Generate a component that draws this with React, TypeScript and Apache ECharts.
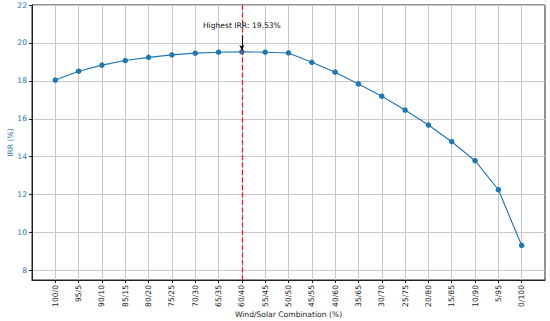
import React, { useEffect, useRef } from "react";
import * as echarts from "echarts";

const categories = [
  "100/0", "95/5", "90/10", "85/15", "80/20", "75/25", "70/30", "65/35", "60/40", "55/45",
  "50/50", "45/55", "40/60", "35/65", "30/70", "25/75", "20/80", "15/85", "10/90", "5/95", "0/100",
];
const irrValues = [
  18.04, 18.51, 18.83, 19.07, 19.24, 19.37, 19.46, 19.51, 19.53, 19.51,
  19.47, 18.98, 18.46, 17.84, 17.19, 16.46, 15.67, 14.79, 13.79, 12.26, 9.32,
];
const yTicks = [8, 10, 12, 14, 16, 18, 20, 22];
const xTicks = categories.map((_, i) => i);
const bestIndex = 8;
const annotationText = "Highest IRR: 19.53%";

const FONT = "DejaVu Sans";
const BLUE = "#1f77b4";
const FS = 7.6;

export default function App() {
  const ref = useRef<HTMLDivElement>(null);
  useEffect(() => {
    if (!ref.current) return;
    const chart = echarts.init(ref.current, null, { renderer: "svg" });
    chart.setOption({
      animation: false,
      textStyle: { fontFamily: FONT },
      grid: {
        left: 32, right: 5, top: 5, bottom: 41,
        containLabel: false,
        outerBoundsMode: "none",
        show: true, borderColor: "#222", borderWidth: 1, backgroundColor: "transparent",
      },
      xAxis: {
        type: "value",
        min: -1,
        max: 21,
        name: "Wind/Solar Combination (%)",
        nameLocation: "middle",
        nameGap: 30,
        nameMoveOverlap: false,
        nameTextStyle: { fontSize: FS, color: "#222", fontFamily: FONT },
        axisLine: { show: true, onZero: false, lineStyle: { color: "#222", width: 1 } },
        axisTick: { show: true, length: 3, lineStyle: { color: "#222" }, customValues: xTicks },
        axisLabel: {
          rotate: 90,
          fontSize: FS,
          color: "#222",
          fontFamily: FONT,
          margin: 5,
          customValues: xTicks,
          formatter: (v: number) => categories[Math.round(v)] ?? "",
        },
        splitLine: { show: true, lineStyle: { color: "#c8c8c8", width: 1 } },
      },
      yAxis: {
        type: "value",
        min: 7.5,
        max: 22,
        name: "IRR (%)",
        nameLocation: "middle",
        nameGap: 18,
        nameMoveOverlap: false,
        nameTextStyle: { fontSize: FS, color: BLUE, fontFamily: FONT },
        axisLine: { show: true, onZero: false, lineStyle: { color: "#222", width: 1 } },
        axisTick: { show: true, length: 3, lineStyle: { color: "#222" }, customValues: yTicks },
        axisLabel: { fontSize: FS, color: BLUE, fontFamily: FONT, margin: 5, customValues: yTicks },
        splitLine: { show: true, lineStyle: { color: "#c8c8c8", width: 1 } },
      },
      series: [
        {
          type: "line",
          data: irrValues.map((v, i) => [i, v]),
          symbol: "circle",
          symbolSize: 5.5,
          itemStyle: { color: BLUE },
          lineStyle: { color: BLUE, width: 1.1 },
          markLine: {
            silent: true,
            symbol: ["none", "none"],
            label: { show: false },
            lineStyle: { color: "#ee1c1c", type: [5, 2.5], width: 1.2, opacity: 1 },
            data: [
              { xAxis: bestIndex },
              [
                { coord: [bestIndex, 20.37], symbol: "none", lineStyle: { color: "#000", type: "solid", width: 1 } },
                { coord: [bestIndex, 19.63], symbol: "arrow", symbolSize: [4, 5], lineStyle: { color: "#000", type: "solid", width: 1 } },
              ],
            ],
          },
          markPoint: {
            silent: true,
            symbol: "circle",
            symbolSize: 0,
            data: [
              {
                coord: [bestIndex, 20.9],
                label: {
                  show: true,
                  formatter: annotationText,
                  color: "#111",
                  fontSize: FS,
                  fontFamily: FONT,
                  position: "inside",
                },
              },
            ],
          },
        },
      ],
    });
    return () => chart.dispose();
  }, []);
  return (
    <div
      ref={ref}
      style={{ position: "fixed", left: 0, top: 0, width: 550, height: 321, background: "#fff" }}
    />
  );
}
